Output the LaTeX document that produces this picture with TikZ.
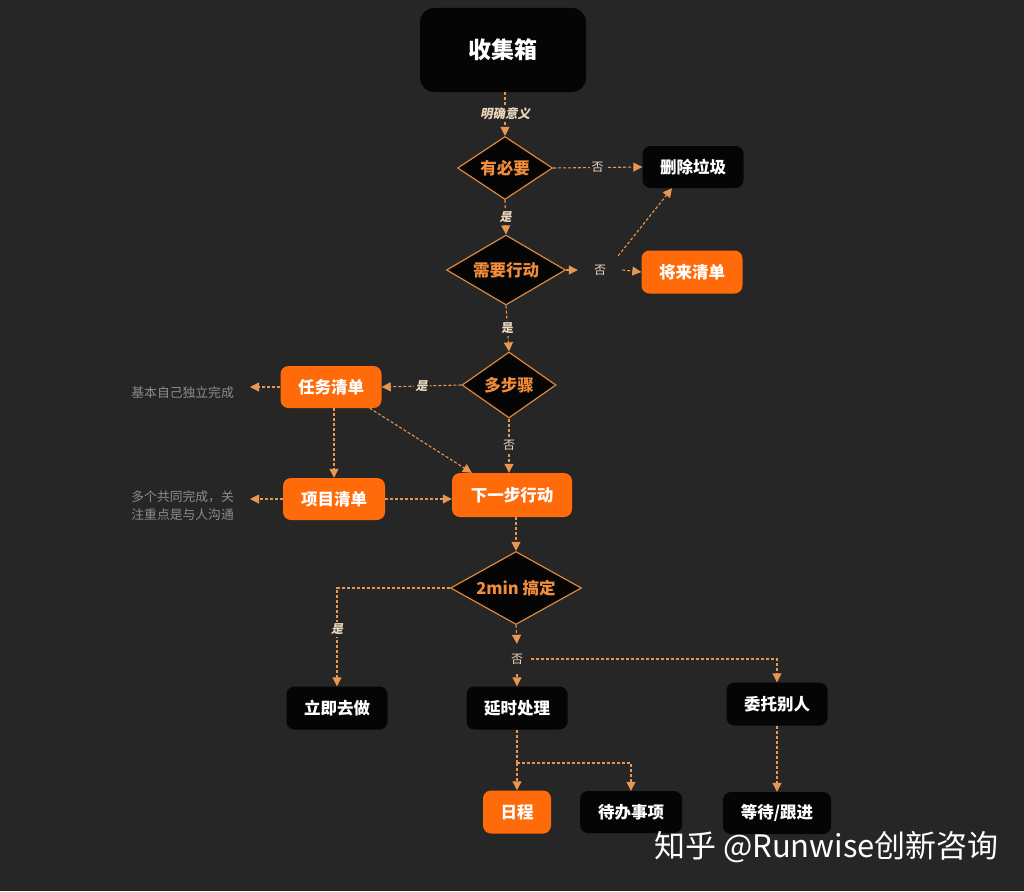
\documentclass[tikz,border=0pt]{standalone}
\usepackage{fontspec}
\setmainfont{Noto Sans CJK SC}
\newfontfamily\slfont{Noto Sans CJK SC}[FakeSlant=0.2]
\usetikzlibrary{shapes.geometric,arrows.meta}
\definecolor{bg}{RGB}{38,38,38}
\definecolor{boxblack}{RGB}{5,5,5}
\definecolor{orangefill}{RGB}{255,107,10}
\definecolor{dborder}{RGB}{222,135,60}
\definecolor{dtext}{RGB}{240,140,58}
\definecolor{edgecol}{RGB}{232,150,80}
\definecolor{lblcol}{RGB}{236,214,190}
\definecolor{notecol}{RGB}{140,140,140}
\tikzset{
  blackbox/.style={rectangle, rounded corners=8pt, fill=boxblack, text=white, inner sep=0pt,
    font=\bfseries\fontsize{16.5}{18}\selectfont},
  orangebox/.style={rectangle, rounded corners=8pt, fill=orangefill, text=white, inner sep=0pt,
    font=\bfseries\fontsize{16.5}{18}\selectfont},
  decision/.style={diamond, shape aspect=1.7, fill=boxblack, draw=dborder, line width=1.2pt,
    text=dtext, inner sep=0pt, font=\bfseries\fontsize{16.5}{18}\selectfont},
  edge/.style={draw=edgecol, line width=1.1pt, dash pattern=on 3pt off 2pt,
    -{Triangle[length=9pt,width=9pt]}},
  plain/.style={draw=edgecol, line width=1.1pt, dash pattern=on 3pt off 2pt},
  lbl/.style={fill=bg, text=lblcol, inner sep=2pt, font=\bfseries\fontsize{12}{14}\selectfont},
  slbl/.style={fill=bg, text=lblcol, inner sep=2pt, font=\slfont\bfseries\fontsize{12}{14}\selectfont},
  note/.style={text=notecol, align=left, inner ysep=0pt, inner xsep=0pt,
    font=\fontsize{12.8}{18}\selectfont},
}
\begin{document}
\begin{tikzpicture}[x=1pt,y=-1pt]
\useasboundingbox[fill=bg] (0,0) rectangle (1024,891);

% nodes
\node[blackbox, minimum width=166, minimum height=84, rounded corners=14pt,
  font=\bfseries\fontsize{23}{26}\selectfont] (inbox) at (503,50) {收集箱};
\node[decision, minimum width=95, minimum height=63] (d1) at (505,168) {有必要};
\node[blackbox, minimum width=101, minimum height=42] (del) at (693,167) {删除垃圾};
\node[decision, minimum width=119, minimum height=70] (d2) at (506,270) {需要行动};
\node[lbl, minimum width=44, minimum height=28, font=\fontsize{12}{14}\selectfont] (no2) at (600,270) {否};
\node[orangebox, minimum width=101, minimum height=43] (future) at (692,272) {将来清单};
\node[decision, minimum width=94, minimum height=66] (d3) at (509,385) {多步骤};
\node[orangebox, minimum width=101, minimum height=42] (task) at (331,387) {任务清单};
\node[note, anchor=east] (note1) at (234,393) {基本自己独立完成};
\node[orangebox, minimum width=120, minimum height=44] (next) at (512,495) {下一步行动};
\node[orangebox, minimum width=102, minimum height=42] (proj) at (334,499) {项目清单};
\node[note, anchor=east] (note2) at (234,506) {多个共同完成，关\\注重点是与人沟通};
\node[decision, minimum width=131, minimum height=73] (d4) at (516,588) {2min 搞定};
\node[lbl, minimum height=30, font=\fontsize{12}{14}\selectfont] (no4) at (517,659) {否};
\node[blackbox, minimum width=101, minimum height=43] (now) at (337,708) {立即去做};
\node[blackbox, minimum width=101, minimum height=43] (delay) at (517,708) {延时处理};
\node[blackbox, minimum width=101, minimum height=43] (deleg) at (777,704) {委托别人};
\node[orangebox, minimum width=68, minimum height=43] (sched) at (517,812) {日程};
\node[blackbox, minimum width=102, minimum height=42] (todo) at (631,812) {待办事项};
\node[blackbox, minimum width=108, minimum height=42] (wait) at (777,813) {等待/跟进};
\coordinate (br) at (517,763);

% connectors
\draw[edge] (d1.north |- inbox.south) -- node[slbl, font=\slfont\bfseries\fontsize{12.5}{14}\selectfont]{明确意义} (d1.north);
\draw[edge] (d1.east) -- node[lbl, font=\fontsize{12}{14}\selectfont]{否} (del.west);
\draw[edge] (d1.south) -- node[slbl]{是} (d2.north);
\draw[edge] (d2.east) -- (no2.west);
\draw[edge] (no2.east) -- (future.west);
\draw[edge] ([xshift=-4pt]no2.north east) -- ([xshift=-21pt]del.south);
\draw[edge] (d2.south) -- node[lbl]{是} (d3.north);
\draw[edge] (d3.west) -- node[slbl]{是} (task.east);
\draw[edge] (d3.south) -- node[lbl, font=\fontsize{12}{14}\selectfont]{否} (d3.south |- next.north);
\draw[edge] (task.west) -- ([xshift=16pt]note1.east |- task.west);
\draw[edge] (proj.north |- task.south) -- (proj.north);
\draw[edge] ([xshift=-12pt]task.south east) -- ([xshift=20pt]next.north west);
\draw[edge] (proj.east) -- (next.west |- proj.east);
\draw[edge] (proj.west) -- ([xshift=16pt]note2.east |- proj.west);
\draw[edge] (d4.north |- next.south) -- (d4.north);
\draw[edge] (d4.west) -| node[slbl, pos=0.71]{是} (now.north);
\draw[edge] (d4.south) -- (no4.north);
\draw[edge] (no4.south) -- (delay.north);
\draw[edge] ([xshift=6pt]no4.east) -| (deleg.north);
\draw[plain] (delay.south) -- (br);
\draw[edge] (br) -- (sched.north);
\draw[edge] (br) -| (todo.north);
\draw[edge] (deleg.south) -- (wait.north);

% watermark
\node[text=white, anchor=west, inner sep=0pt, font=\fontsize{31}{34}\selectfont] (wm) at (654,847) {知乎 @Runwise创新咨询};
\end{tikzpicture}
\end{document}
